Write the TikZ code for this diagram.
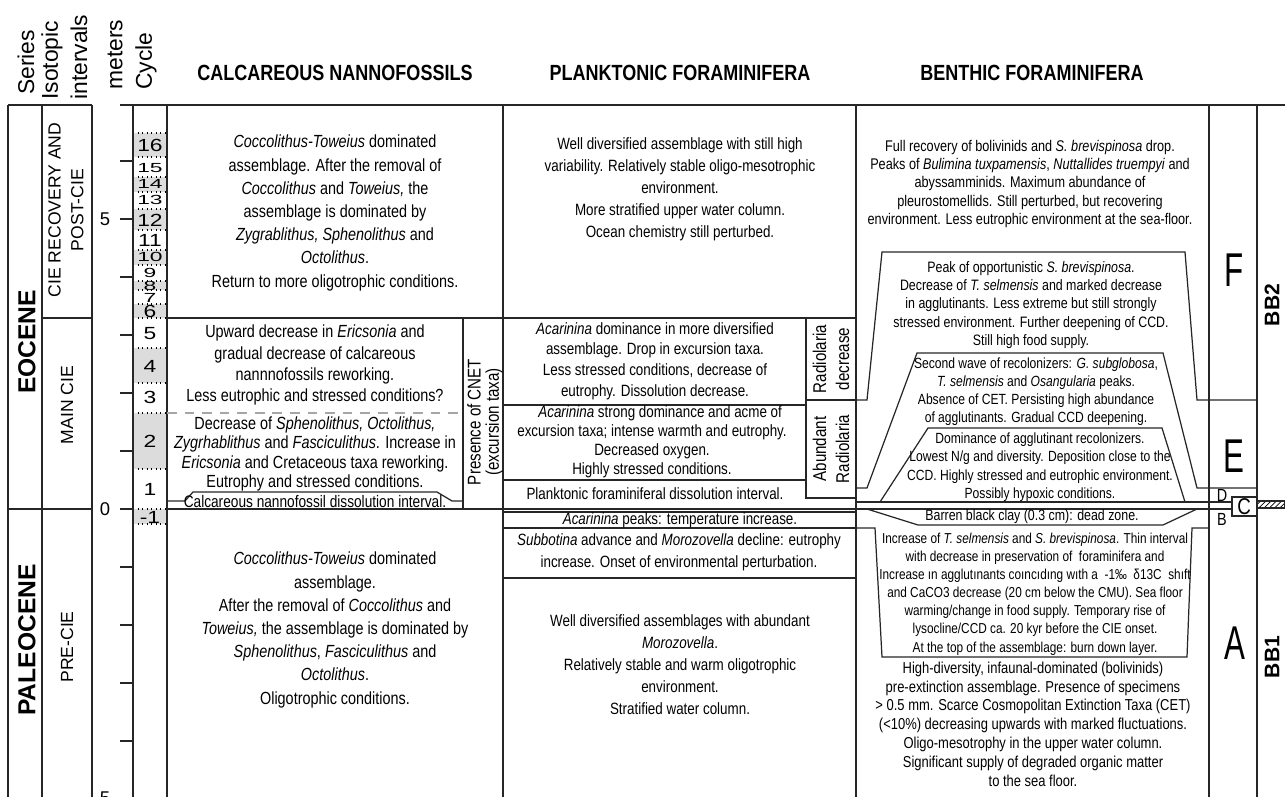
\documentclass[tikz,border=0pt]{standalone}
\usepackage{fontspec}
\setmainfont{Liberation Sans}
\newfontfamily\narrowfont[FakeStretch=0.82]{Liberation Sans}
\newfontfamily\tallfont[FakeStretch=0.66]{Liberation Sans}
\newfontfamily\widefont[FakeStretch=1.3]{Liberation Sans}
\usetikzlibrary{patterns}
\definecolor{cyclegray}{HTML}{DCDCDC}

\tikzset{
	rule/.style={line width=0.7pt, black!85},
	hdr/.style={font=\narrowfont\bfseries\fontsize{12.5}{14}\selectfont},
	rothdr/.style={font=\fontsize{13}{15}\selectfont, rotate=90, anchor=west, inner sep=0pt},
	seriestxt/.style={font=\bfseries\fontsize{14}{16}\selectfont, rotate=90},
	isotxt/.style={font=\fontsize{10}{13}\selectfont, rotate=90, align=center},
	meterlbl/.style={font=\fontsize{10.5}{12}\selectfont},
	cyc/.style={font=\widefont\fontsize{10}{10}\selectfont, inner sep=0pt},
	calctxt/.style={font=\narrowfont\fontsize{10}{13.2}\selectfont, align=center, inner sep=0pt},
	plktxt/.style={font=\narrowfont\fontsize{9.3}{12.5}\selectfont, align=center, inner sep=0pt},
	bthtxt/.style={font=\narrowfont\fontsize{8.6}{10.5}\selectfont, align=center, inner sep=0pt},
	rottxt/.style={font=\narrowfont\fontsize{10.5}{13}\selectfont, rotate=90, align=center, inner sep=0pt},
	bigletter/.style={font=\tallfont\fontsize{27}{27}\selectfont, inner sep=0pt},
	smletter/.style={font=\narrowfont\fontsize{10}{10}\selectfont, inner sep=0pt},
	bbtxt/.style={font=\bfseries\fontsize{12}{12}\selectfont, rotate=90}
}

\begin{document}
\begin{tikzpicture}[x=0.02cm,y=-0.02cm]
	\useasboundingbox (0,0) rectangle (1285,797);
	
	\foreach \ya/\yb in {133/157,177/192,209/230,250/265,281/290,304/318,348/383,413/469,509/524}{
		\fill[cyclegray] (133,\ya) rectangle (167,\yb);
		\draw[dotted, line width=0.6pt] (133,\ya) -- (167,\ya) (133,\yb) -- (167,\yb);
	}
	
	\draw[rule] (8,105) -- (92,105) (120,105) -- (1285,105);
	\foreach \x in {8,42,92,133,167,503,856,1209,1257}
		\draw[rule] (\x,105) -- (\x,797);
	\draw[rule] (8,509) -- (92,509) (42,318) -- (92,318);
	\foreach \k in {-5,...,6}
		\draw[rule] (120,{509-58*\k}) -- (133,{509-58*\k});
	
	\draw[rule] (167,509) -- (1232,509);
	\draw[rule] (167,318) -- (856,318);
	\draw[rule] (463,318) -- (463,509);
	\draw[rule] (167,501) -- (185,501) -- (193,492) -- (437,492) -- (452,501) -- (463,501);
	\draw[gray!70, line width=1pt, dash pattern=on 5.5pt off 4.5pt] (167,413) -- (463,413);
	
	\draw[rule] (503,405) -- (806,405) (503,480) -- (806,480);
	\draw[rule] (806,318) -- (806,498) -- (856,498) (806,400) -- (856,400);
	\draw[rule] (503,512) -- (856,512) (503,528) -- (856,528) (503,578) -- (856,578);
	
	\draw[rule] (856,400) -- (867,400) -- (882,252) -- (1185,252) -- (1197,400) -- (1257,400);
	\draw[rule] (856,488) -- (867,488) -- (917,353) -- (1163,353) -- (1197,488) -- (1257,488);
	\draw[rule] (880,502) -- (928,428) -- (1162,428) -- (1185,502);
	\draw[rule] (856,502) -- (1232,502);
	\draw[rule] (867,509) -- (918,525) -- (1163,525) -- (1197,509);
	\draw[rule] (856,528) -- (875,528) -- (882,657) -- (1187,657) -- (1192,528) -- (1209,528);
	\draw[rule] (1232,497) rectangle (1257,516);
	\draw[rule, pattern=north east lines] (1257,501) rectangle (1285,508);
	
	\node[rothdr] (hser) at (26,95) {Series};
	\node[rothdr] (hiso) at (52,100) {Isotopic};
	\node[rothdr] (hint) at (79,100) {intervals};
	\node[rothdr] (hmet) at (115,90) {meters};
	\node[rothdr] (hcyc) at (146,90) {Cycle};
	\node[hdr] (hcalc) at (335,73) {CALCAREOUS NANNOFOSSILS};
	\node[hdr] (hplk) at (680,73) {PLANKTONIC FORAMINIFERA};
	\node[hdr] (hbth) at (1032,73) {BENTHIC FORAMINIFERA};
	
	\node[seriestxt] (eoc) at (27,342) {EOCENE};
	\node[seriestxt] (pal) at (27,640) {PALEOCENE};
	\node[isotxt] (isorec) at (66,210) {CIE RECOVERY AND\\POST-CIE};
	\node[isotxt] (isomain) at (67,405) {MAIN CIE};
	\node[isotxt] (isopre) at (67,647) {PRE-CIE};
	
	\node[meterlbl] (m5) at (105,219) {5};
	\node[meterlbl] (m0) at (105,509) {0};
	\node[meterlbl] (mlow) at (105,798) {5};
	
	\foreach \lbl/\yy in {16/145,12/220,11/240,6/311,5/334,4/366,3/397,2/441,1/489,-1/517}
		\node[cyc] (c\lbl) at (150,\yy) {\lbl};
	\foreach \lbl/\yy in {15/168,14/184,13/200,10/257,9/273,8/286,7/298}
		\node[cyc] (c\lbl) at (150,\yy) {\scalebox{1}[0.75]{\lbl}};
	
	\node[calctxt] (calcpost) at (335,213) {\textit{Coccolithus-Toweius} dominated\\assemblage. After the removal of\\\textit{Coccolithus} and \textit{Toweius,} the\\assemblage is dominated by\\\textit{Zygrablithus, Sphenolithus} and\\\textit{Octolithus}.\\Return to more oligotrophic conditions.};
	\node[calctxt, font=\narrowfont\fontsize{10}{12}\selectfont] (calcup) at (315,365) {Upward decrease in \textit{Ericsonia} and\\gradual decrease of calcareous\\nannnofossils reworking.\\Less eutrophic and stressed conditions?};
	\node[calctxt, font=\narrowfont\fontsize{10}{10.9}\selectfont] (calclow) at (315,454) {Decrease of \textit{Sphenolithus, Octolithus,}\\\textit{Zygrhablithus} and \textit{Fasciculithus}. Increase in\\\textit{Ericsonia} and Cretaceous taxa reworking.\\Eutrophy and stressed conditions.};
	\node[calctxt, font=\narrowfont\fontsize{9.5}{10}\selectfont] (calcdiss) at (315,502) {Calcareous nannofossil dissolution interval.};
	\node[rottxt, font=\narrowfont\fontsize{10.5}{10.5}\selectfont] (cnet) at (485,422) {Presence of CNET\\(excursion taxa)};
	\node[calctxt] (calcpre) at (335,630) {\textit{Coccolithus-Toweius} dominated\\assemblage.\\After the removal of \textit{Coccolithus} and\\\textit{Toweius,} the assemblage is dominated by\\\textit{Sphenolithus}, \textit{Fasciculithus} and\\\textit{Octolithus}.\\Oligotrophic conditions.};
	
	\node[plktxt] (plkpost) at (680,189) {Well diversified assemblage with still high\\variability. Relatively stable oligo-mesotrophic\\environment.\\More stratified upper water column.\\Ocean chemistry still perturbed.};
	\node[plktxt, font=\narrowfont\fontsize{9.3}{11.7}\selectfont] (plkup) at (655,361) {\textit{Acarinina} dominance in more diversified\\assemblage. Drop in excursion taxa.\\Less stressed conditions, decrease of\\eutrophy. Dissolution decrease.};
	\node[plktxt, font=\narrowfont\fontsize{9.3}{10.9}\selectfont] (plklow) at (652,442) {\quad\textit{Acarinina} strong dominance and acme of\\excursion taxa; intense warmth and eutrophy.\\Decreased oxygen.\\Highly stressed conditions.};
	\node[plktxt] (plkdiss) at (655,494) {Planktonic foraminiferal dissolution interval.};
	\node[rottxt] (raddec) at (831,359) {Radiolaria\\decrease};
	\node[rottxt] (radab) at (831,449) {Abundant\\Radiolaria};
	\node[plktxt] (plkacar) at (680,520) {\textit{Acarinina} peaks: temperature increase.};
	\node[plktxt] (plksubb) at (679,552) {\textit{Subbotina} advance and \textit{Morozovella} decline: eutrophy\\increase. Onset of environmental perturbation.};
	\node[plktxt] (plkpre) at (680,665) {Well diversified assemblages with abundant\\\textit{Morozovella}.\\Relatively stable and warm oligotrophic\\environment.\\Stratified water column.};
	
	\node[bthtxt, font=\narrowfont\fontsize{8.8}{10.5}\selectfont] (bthF) at (1030,184) {Full recovery of bolivinids and \textit{S. brevispinosa} drop.\\Peaks of \textit{Bulimina tuxpamensis}, \textit{Nuttallides truempyi} and\\abyssamminids. Maximum abundance of\\pleurostomellids. Still perturbed, but recovering\\environment. Less eutrophic environment at the sea-floor.};
	\node[bthtxt] (bthpeak) at (1031,305) {Peak of opportunistic \textit{S. brevispinosa}.\\Decrease of \textit{T. selmensis} and marked decrease\\in agglutinants. Less extreme but still strongly\\stressed environment. Further deepening of CCD.\\Still high food supply.};
	\node[bthtxt, font=\narrowfont\fontsize{8.4}{10.3}\selectfont] (bthsecond) at (1036,392) {Second wave of recolonizers: \textit{G. subglobosa},\\\textit{T. selmensis} and \textit{Osangularia} peaks.\\Absence of CET. Persisting high abundance\\of agglutinants. Gradual CCD deepening.};
	\node[bthtxt, font=\narrowfont\fontsize{8.4}{10.5}\selectfont] (bthdom) at (1040,467) {Dominance of agglutinant recolonizers.\\Lowest N/g and diversity. Deposition close to the\\CCD. Highly stressed and eutrophic environment.\\Possibly hypoxic conditions.};
	\node[bthtxt] (bthbarren) at (1032,517) {Barren black clay (0.3 cm): dead zone.};
	\node[bthtxt, font=\narrowfont\fontsize{8.2}{10.3}\selectfont] (bthinc) at (1035,594) {Increase of \textit{T. selmensis} and \textit{S. brevispinosa}. Thin interval\\with decrease in preservation of\ \ foraminifera and\\Increase ın agglutınants coıncıdıng wıth a\ \ -1‰\ \ δ13C\ \ shıft\\and CaCO3 decrease (20 cm below the CMU). Sea floor\\warming/change in food supply. Temporary rise of\\lysocline/CCD ca. 20 kyr before the CIE onset.\\At the top of the assemblage: burn down layer.};
	\node[bthtxt, font=\narrowfont\fontsize{9}{10.7}\selectfont] (bthpre) at (1033,724) {High-diversity, infaunal-dominated (bolivinids)\\pre-extinction assemblage. Presence of specimens\\> 0.5 mm. Scarce Cosmopolitan Extinction Taxa (CET)\\(<10\%) decreasing upwards with marked fluctuations.\\Oligo-mesotrophy in the upper water column.\\Significant supply of degraded organic matter\\to the sea floor.};
	
	\node[bigletter] (lF) at (1234,270) {F};
	\node[bigletter] (lE) at (1234,456) {E};
	\node[bigletter] (lA) at (1235,643) {A};
	\node[smletter] (lD) at (1222,495) {D};
	\node[smletter, font=\narrowfont\fontsize{13}{13}\selectfont] (lC) at (1244,507) {C};
	\node[smletter] (lB) at (1222,519) {B};
	\node[bbtxt] (bb2) at (1272,305) {BB2};
	\node[bbtxt] (bb1) at (1272,657) {BB1};
\end{tikzpicture}
\end{document}
